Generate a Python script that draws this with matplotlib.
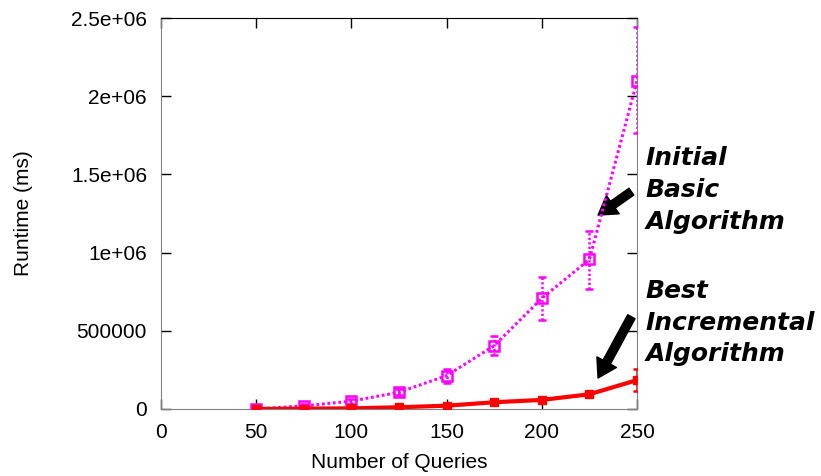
import numpy as np
import matplotlib
matplotlib.use("Agg")
import matplotlib.pyplot as plt

# number of queries
queries = [50, 75, 100, 125, 150, 175, 200, 225, 250]

# initial basic algorithm (ms)
basic = [0, 20000, 50000, 107000, 213000, 405000, 708000, 957000, 2100000]
basic_lo = [0, 10000, 15000, 20000, 45000, 60000, 138000, 192000, 335000]
basic_hi = [0, 10000, 15000, 20000, 45000, 60000, 138000, 183000, 340000]

# best incremental algorithm (ms)
best = [0, 2000, 4000, 11000, 21000, 43000, 58000, 94000, 185000]
best_err = [0, 2000, 8000, 9000, 9000, 10000, 8000, 8000, 70000]

plt.rcParams['font.family'] = ['Liberation Sans', 'DejaVu Sans']

fig = plt.figure(figsize=(8.21, 4.76), dpi=100)
ax = fig.add_axes([0.196, 0.1408, 0.58, 0.8212])

eb = ax.errorbar(queries, basic, yerr=[basic_lo, basic_hi], color='#ff00ff',
                 linestyle=(0, (0.9, 0.9)), linewidth=2.2, marker='s',
                 markersize=7, markerfacecolor='none', markeredgewidth=1.8,
                 elinewidth=1.8, capsize=3, capthick=1.8, zorder=3)
for bar in eb[2]:
    bar.set_linestyle((0, (0.9, 0.9)))

ax.errorbar(queries, best, yerr=best_err, color='#ff0000', linestyle='-',
            linewidth=3, marker='s', markersize=6, elinewidth=1.8,
            capsize=3, capthick=1.8, zorder=4)

ax.set_xlim(0, 250)
ax.set_ylim(0, 2500000)
ax.set_xticks([0, 50, 100, 150, 200, 250])
ax.set_yticks([0, 500000, 1000000, 1500000, 2000000, 2500000])
ax.set_yticklabels(['0', '500000', '1e+06', '1.5e+06', '2e+06', '2.5e+06'])
ax.tick_params(direction='in', length=7, width=1, labelsize=15,
               top=True, right=True, pad=10)

for side in ['left', 'bottom', 'right']:
    ax.spines[side].set_color('#808080')
ax.spines['top'].set_color('black')

ax.set_xlabel('Number of Queries', fontsize=15, labelpad=8)
ax.set_ylabel('Runtime (ms)', fontsize=15, labelpad=27)

lbl = dict(fontsize=18, fontweight='bold', fontstyle='italic',
           family=['DejaVu Sans'], ha='left', va='top', linespacing=1.4)
ax.text(1.018, 0.672, 'Initial\nBasic\nAlgorithm', transform=ax.transAxes, **lbl)
ax.text(1.018, 0.332, 'Best\nIncremental\nAlgorithm', transform=ax.transAxes, **lbl)

arrow = dict(facecolor='black', edgecolor='black', width=6, headwidth=16,
             headlength=13, shrink=0)
ax.annotate('', xy=(229.5, 1240000), xytext=(247, 1390000),
            arrowprops=arrow, annotation_clip=False)
ax.annotate('', xy=(229.5, 198000), xytext=(247, 590000),
            arrowprops=arrow, annotation_clip=False)

fig.savefig('out.png', dpi=100)
